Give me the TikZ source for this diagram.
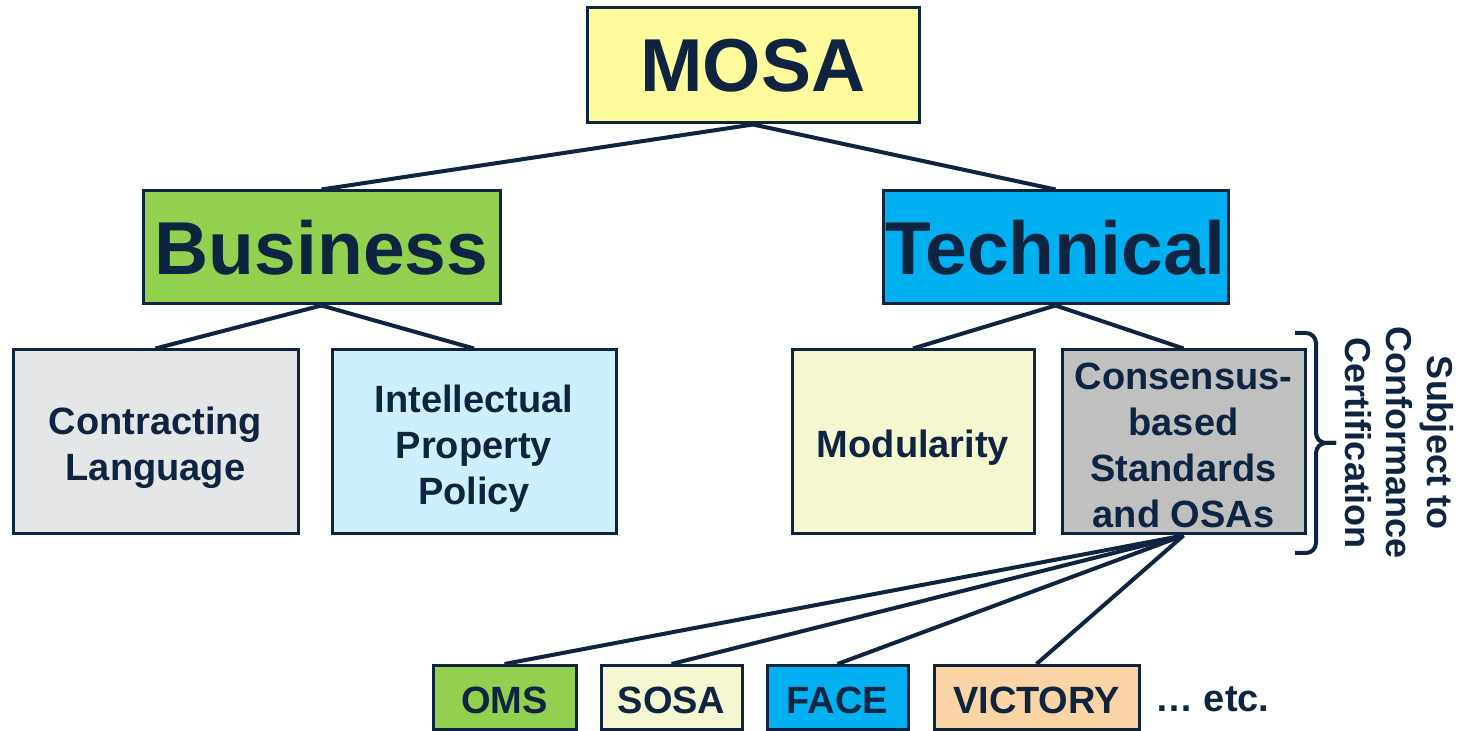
\documentclass[tikz,border=0pt]{standalone}
\usepackage{fontspec}
\setmainfont{Liberation Sans}
\definecolor{ink}{HTML}{0E2440}
\definecolor{mosaY}{HTML}{FFFA9C}
\definecolor{bizG}{HTML}{92D050}
\definecolor{techB}{HTML}{00B0F0}
\definecolor{contrG}{HTML}{E4E6E7}
\definecolor{ipC}{HTML}{CCF0FC}
\definecolor{modC}{HTML}{F5F7D0}
\definecolor{stdG}{HTML}{C0C0C0}
\definecolor{vicP}{HTML}{FBD4A6}
\tikzset{
  box/.style={draw=ink, line width=1.5pt, inner sep=0pt, text=ink, align=center,
    font=\bfseries},
  bigtext/.style={font=\fontsize{37.5}{40}\selectfont\bfseries},
  midtext/.style={font=\fontsize{19}{23}\selectfont\bfseries},
  inlabel/.style={midtext, text=ink, align=center, inner sep=0pt},
  link/.style={draw=ink, line width=2pt},
}
\begin{document}
\begin{tikzpicture}[x=0.5pt, y=-0.5pt]
\useasboundingbox (0,0) rectangle (1463,731);

% top level
\node[box, bigtext, fill=mosaY, minimum width=166pt, minimum height=57.5pt] (mosa) at (753,65.5) {MOSA};

% second level
\node[box, bigtext, fill=bizG, minimum width=178.5pt, minimum height=56.5pt] (biz) at (321.5,247.5) {Business};
\node[box, bigtext, fill=techB, minimum width=172.5pt, minimum height=56.5pt] (tech) at (1055.5,247.5) {\hspace*{-4pt}Technical\hspace*{-4pt}};

% third level (labels set a little below the box centre)
\node[box, fill=contrG, minimum width=142.5pt, minimum height=92pt,
  label={[inlabel, yshift=-3pt]center:Contracting\\Language}] (contr) at (155.5,442) {};
\node[box, fill=ipC, minimum width=142pt, minimum height=92pt,
  label={[inlabel, yshift=-3.5pt]center:Intellectual\\Property\\Policy}] (ip) at (474,442) {};
\node[box, fill=modC, minimum width=121pt, minimum height=92pt,
  label={[inlabel, yshift=-3pt]center:Modularity}] (mod) at (913,442) {};
\node[box, fill=stdG, minimum width=121.5pt, minimum height=92pt,
  label={[inlabel, yshift=-1.5pt]center:Consensus-\\based\\Standards\\and OSAs}] (std) at (1183.5,442) {};

% example standards
\node[box, fill=bizG, minimum width=71.5pt, minimum height=32pt,
  label={[inlabel, yshift=-1.5pt]center:OMS}] (oms) at (504.5,697.5) {};
\node[box, fill=modC, minimum width=70.5pt, minimum height=32pt,
  label={[inlabel, yshift=-1.5pt]center:SOSA}] (sosa) at (671.5,697.5) {};
\node[box, fill=techB, minimum width=70.5pt, minimum height=32pt,
  label={[inlabel, yshift=-1.5pt]center:FACE}] (face) at (837.5,697.5) {};
\node[box, fill=vicP, minimum width=102.5pt, minimum height=32pt,
  label={[inlabel, yshift=-1.5pt]center:VICTORY}] (vic) at (1036.5,697.5) {};
\node[midtext, text=ink, anchor=west, inner sep=0pt] (etc) at (1155,699) {\dots\ etc.};

% connectors
\draw[link] (mosa.south) -- (biz.north);
\draw[link] (mosa.south) -- (tech.north);
\draw[link] (biz.south) -- (contr.north);
\draw[link] (biz.south) -- (ip.north);
\draw[link] (tech.south) -- (mod.north);
\draw[link] (tech.south) -- (std.north);
\draw[link] (std.south) -- (oms.north);
\draw[link] (std.south) -- (sosa.north);
\draw[link] (std.south) -- (face.north);
\draw[link] (std.south) -- (vic.north);

% certification brace
\coordinate (bt) at (1295,333);
\coordinate (bb) at (1295,553);
\coordinate (bm) at (1316,443);
\coordinate (tip) at (1336,443);
\draw[ink, line width=2pt, rounded corners=5pt]
  (bt) -- (bt -| bm) -- (bm) -- (tip);
\draw[ink, line width=2pt, rounded corners=5pt]
  (bb) -- (bb -| bm) -- (bm) -- (tip);
\node[font=\fontsize{18}{20.5}\selectfont\bfseries, text=ink, align=center,
  rotate=-90, inner sep=0pt] (cert) at (1399,443) {Subject to\\Conformance\\Certification};
\end{tikzpicture}
\end{document}
